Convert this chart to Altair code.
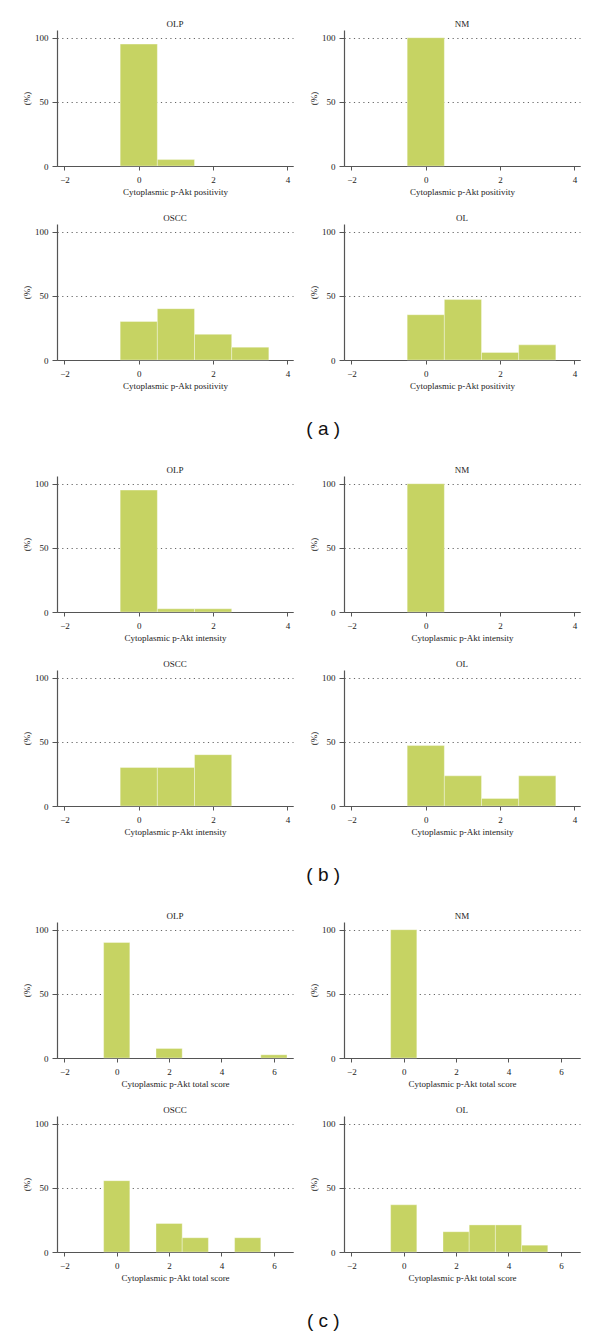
import altair as alt
import pandas as pd

# ---- data (percent of cases per score) ----
# (a) cytoplasmic p-Akt positivity
pos_olp_x = [0, 1];        pos_olp_y = [95, 5]
pos_nm_x = [0];            pos_nm_y = [100]
pos_oscc_x = [0, 1, 2, 3]; pos_oscc_y = [30, 40, 20, 10]
pos_ol_x = [0, 1, 2, 3];   pos_ol_y = [35.3, 47.1, 5.9, 11.8]

# (b) cytoplasmic p-Akt intensity
int_olp_x = [0, 1, 2];     int_olp_y = [95, 2.5, 2.5]
int_nm_x = [0];            int_nm_y = [100]
int_oscc_x = [0, 1, 2];    int_oscc_y = [30, 30, 40]
int_ol_x = [0, 1, 2, 3];   int_ol_y = [47.1, 23.5, 5.9, 23.5]

# (c) cytoplasmic p-Akt total score
tot_olp_x = [0, 2, 6];     tot_olp_y = [90, 7.5, 2.5]
tot_nm_x = [0];            tot_nm_y = [100]
tot_oscc_x = [0, 2, 3, 5]; tot_oscc_y = [55.6, 22.2, 11.1, 11.1]
tot_ol_x = [0, 2, 3, 4, 5]; tot_ol_y = [36.8, 15.8, 21.1, 21.1, 5.3]

x_ticks_small = [-2, 0, 2, 4]
x_ticks_total = [-2, 0, 2, 4, 6]
y_ticks = [0, 50, 100]

xtitle_pos = "Cytoplasmic p-Akt positivity"
xtitle_int = "Cytoplasmic p-Akt intensity"
xtitle_tot = "Cytoplasmic p-Akt total score"

BAR = "#c6d363"
SERIF = "Liberation Serif"
PW, PH = 236, 136


def panel(name, xs, ys, domain, ticks, xtitle):
    df = pd.DataFrame({"score": xs, "pct": ys})
    return (
        alt.Chart(df, title=alt.TitleParams(name, offset=1))
        .transform_calculate(lo="datum.score - 0.5", hi="datum.score + 0.5", base="0")
        .mark_rect(color=BAR, stroke="white", strokeWidth=0.5, strokeOpacity=0.7)
        .encode(
            x=alt.X("lo:Q",
                    scale=alt.Scale(domain=domain, nice=False, zero=False),
                    axis=alt.Axis(values=ticks, title=xtitle, grid=False,
                                  tickSize=4, labelPadding=5, titlePadding=3)),
            x2="hi:Q",
            y=alt.Y("pct:Q",
                    scale=alt.Scale(domain=[0, 106], nice=False),
                    axis=alt.Axis(values=y_ticks, title="(%)", grid=True,
                                  gridDash=[1.2, 3.5], gridColor="#666", gridWidth=1,
                                  tickSize=5, labelPadding=4, titlePadding=3)),
            y2="base:Q",
        )
        .properties(width=PW, height=PH)
    )


def section(label, data, domain, ticks, xtitle):
    (olp, nm, oscc, ol) = data
    row1 = alt.hconcat(panel("OLP", *olp, domain, ticks, xtitle),
                       panel("NM", *nm, domain, ticks, xtitle), spacing=16)
    row2 = alt.hconcat(panel("OSCC", *oscc, domain, ticks, xtitle),
                       panel("OL", *ol, domain, ticks, xtitle), spacing=16)
    return alt.vconcat(
        row1, row2, spacing=18,
        title=alt.TitleParams(label, orient="bottom", anchor="middle",
                              font="Liberation Sans", fontSize=19,
                              fontWeight="normal", color="#111",
                              offset=30, dx=22),
    )


dom_small = [-2.2, 4.15]
dom_total = [-2.28, 6.73]

sec_a = section("( a )", [(pos_olp_x, pos_olp_y), (pos_nm_x, pos_nm_y),
                          (pos_oscc_x, pos_oscc_y), (pos_ol_x, pos_ol_y)],
                dom_small, x_ticks_small, xtitle_pos)
sec_b = section("( b )", [(int_olp_x, int_olp_y), (int_nm_x, int_nm_y),
                          (int_oscc_x, int_oscc_y), (int_ol_x, int_ol_y)],
                dom_small, x_ticks_small, xtitle_int)
sec_c = section("( c )", [(tot_olp_x, tot_olp_y), (tot_nm_x, tot_nm_y),
                          (tot_oscc_x, tot_oscc_y), (tot_ol_x, tot_ol_y)],
                dom_total, x_ticks_total, xtitle_tot)

chart = (
    alt.vconcat(sec_a, sec_b, sec_c, spacing=27)
    .properties(padding={"left": 14, "top": 12, "right": 5, "bottom": 2},
                background="white")
    .configure_view(stroke=None)
    .configure_axis(labelFont=SERIF, titleFont=SERIF, labelFontSize=9,
                    titleFontSize=9, titleFontWeight="normal",
                    labelColor="#222", titleColor="#222",
                    domainColor="#555", tickColor="#555", domainWidth=1.2)
    .configure_title(font=SERIF, fontSize=9, fontWeight="normal", color="#222")
)

chart.save("out.html", embed_options={"renderer": "svg", "actions": False})
